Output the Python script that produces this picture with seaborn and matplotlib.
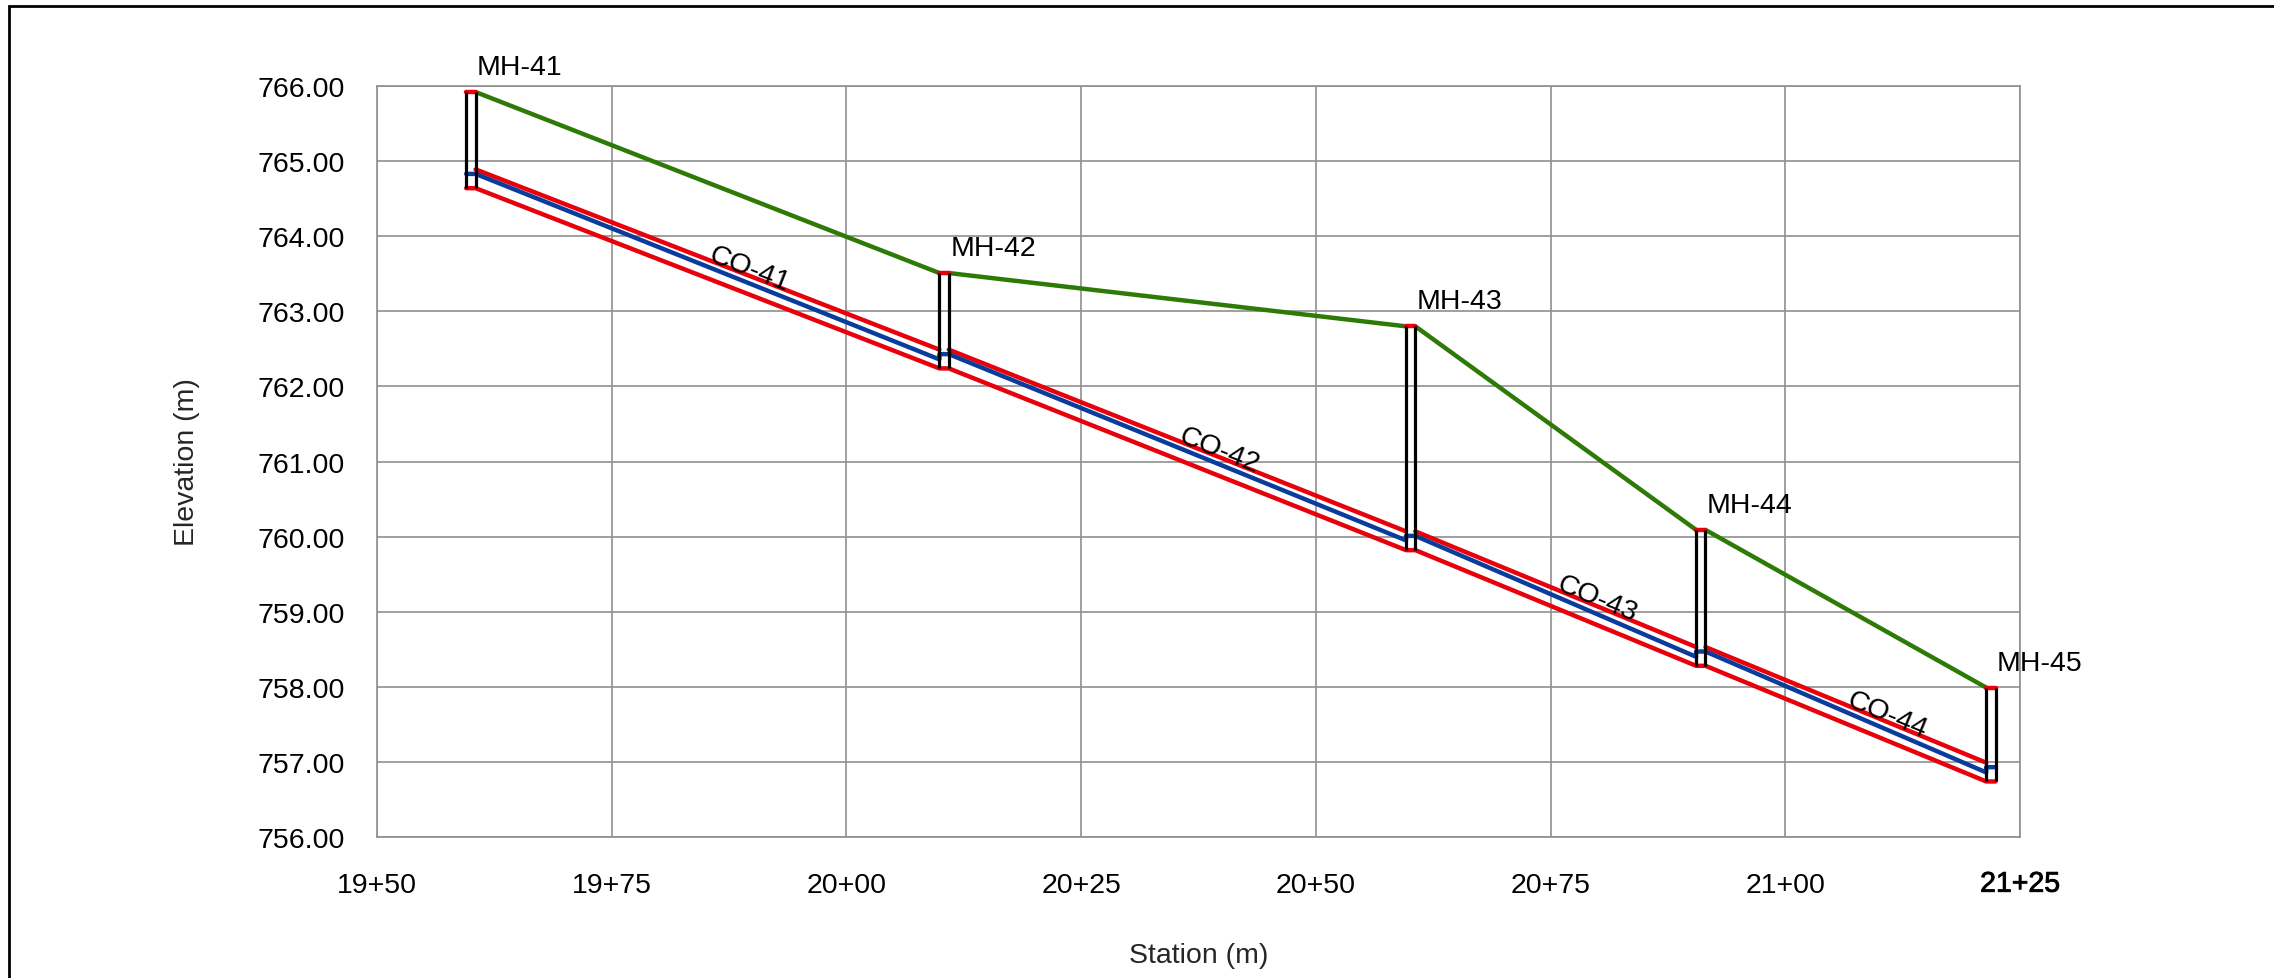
import numpy as np
import pandas as pd
import matplotlib
matplotlib.use("Agg")
import matplotlib.pyplot as plt
import matplotlib.patheffects as pe
from matplotlib.patches import Rectangle
import seaborn as sns

# DATA

mh_names = ["MH-41", "MH-42", "MH-43", "MH-44", "MH-45"]
mh_station = [1960.0, 2010.4, 2060.1, 2091.0, 2121.9]
mh_rim = [765.92, 763.51, 762.80, 760.09, 757.99]
mh_invert = [764.64, 762.24, 759.82, 758.28, 756.74]
mh_hgl = [764.83, 762.43, 760.01, 758.47, 756.93]

pipe_names = ["CO-41", "CO-42", "CO-43", "CO-44"]
pipe_hgl_end = [762.36, 759.95, 758.40, 756.86]

PIPE_RISE = 0.25
MH_WIDTH = 1.0

x_ticks = [1950, 1975, 2000, 2025, 2050, 2075, 2100, 2125]
y_ticks = [756, 757, 758, 759, 760, 761, 762, 763, 764, 765, 766]

# STYLE

RED = "#e8000b"
BLUE = "#0a3c9c"
GREEN = "#2e7a06"
GRID = "#8f8f8f"
FS = 20.5

sns.set_theme(style="whitegrid")
plt.rcParams["font.family"] = ["Liberation Sans", "DejaVu Sans"]
plt.rcParams["text.color"] = "black"


def station_label(v):
    return f"{int(v // 100)}+{int(v % 100):02d}"


# BUILD LONG-FORM TABLES

half = MH_WIDTH / 2
ground_rows, crown_rows, invert_rows, hgl_rows, cap_rows = [], [], [], [], []

for i in range(len(pipe_names)):
    x0 = mh_station[i] + half
    x1 = mh_station[i + 1] - half
    ground_rows += [(i, x0, mh_rim[i]), (i, x1, mh_rim[i + 1])]
    crown_rows += [(i, x0, mh_invert[i] + PIPE_RISE), (i, x1, mh_invert[i + 1] + PIPE_RISE)]

k = 0
for i, st in enumerate(mh_station):
    invert_rows += [(k, st - half, mh_invert[i]), (k + 1, st + half, mh_invert[i])]
    k += 2
    cap_rows += [(i, st - half, mh_rim[i]), (i, st + half, mh_rim[i])]

k = 0
for i, st in enumerate(mh_station):
    if i > 0:
        hgl_rows.append((k, st - half, pipe_hgl_end[i - 1]))
        k += 1
    hgl_rows += [(k, st - half, mh_hgl[i]), (k + 1, st + half, mh_hgl[i])]
    k += 2

cols = ["seg", "station", "elev"]
ground = pd.DataFrame(ground_rows, columns=cols)
crown = pd.DataFrame(crown_rows, columns=cols)
invert = pd.DataFrame(invert_rows, columns=["order", "station", "elev"])
hgl = pd.DataFrame(hgl_rows, columns=["order", "station", "elev"])
caps = pd.DataFrame(cap_rows, columns=cols)

# PLOT

fig = plt.figure(figsize=(22.74, 9.79), dpi=100)
ax = fig.add_axes([0.1658, 0.1440, 0.7225, 0.7671])

lw = 3.2
sns.lineplot(data=ground, x="station", y="elev", units="seg", estimator=None,
             sort=False, color=GREEN, lw=lw, ax=ax, zorder=3)
sns.lineplot(data=crown, x="station", y="elev", units="seg", estimator=None,
             sort=False, color=RED, lw=lw, ax=ax, zorder=3)
sns.lineplot(data=invert, x="station", y="elev", estimator=None,
             sort=False, color=RED, lw=lw, ax=ax, zorder=3)
sns.lineplot(data=hgl, x="station", y="elev", estimator=None,
             sort=False, color=BLUE, lw=lw, ax=ax, zorder=3)
sns.lineplot(data=caps, x="station", y="elev", units="seg", estimator=None,
             sort=False, color=RED, lw=lw, ax=ax, zorder=3)

# manhole walls
for i, st in enumerate(mh_station):
    ax.vlines([st - half, st + half], mh_invert[i], mh_rim[i],
              colors="black", lw=2.3, zorder=4)
    ax.annotate(mh_names[i], (st + half, mh_rim[i]), xytext=(1, 13),
                textcoords="offset points", ha="left", va="baseline",
                fontsize=FS, zorder=5)

# pipe labels along the crown
for i, name in enumerate(pipe_names):
    x0 = mh_station[i] + half
    x1 = mh_station[i + 1] - half
    y0 = mh_invert[i] + PIPE_RISE
    y1 = mh_invert[i + 1] + PIPE_RISE
    ang = np.degrees(np.arctan2(y1 - y0, x1 - x0))
    ax.text((x0 + x1) / 2, (y0 + y1) / 2, name, rotation=ang,
            rotation_mode="anchor", transform_rotates_text=True,
            ha="left", va="baseline", fontsize=FS, zorder=5)

ax.set_xlim(1950, 2125)
ax.set_ylim(756, 766)
ax.set_xticks(x_ticks)
ax.set_xticklabels([station_label(v) for v in x_ticks])
ax.set_yticks(y_ticks)
ax.set_yticklabels([f"{v:.2f}" for v in y_ticks])
ax.tick_params(axis="both", length=0, labelsize=FS, colors="black")
ax.tick_params(axis="x", pad=25)
ax.tick_params(axis="y", pad=23.5)
ax.xaxis.get_ticklabels()[-1].set_path_effects(
    [pe.withStroke(linewidth=0.6, foreground="black")])

ax.grid(True, color=GRID, lw=1.2)
ax.set_facecolor("white")
for sp in ax.spines.values():
    sp.set_color(GRID)
    sp.set_linewidth(1.2)

ax.set_xlabel("Station (m)", fontsize=FS)
ax.set_ylabel("Elevation (m)", fontsize=FS)
ax.xaxis.set_label_coords(0.5, -0.140)
ax.yaxis.set_label_coords(-0.108, 0.5)

# outer frame (only left and top edges fall inside the image)
fig.add_artist(Rectangle((9 / 2274, -0.1), 1.2, 1.1 - 7 / 979,
                         transform=fig.transFigure, fill=False,
                         edgecolor="black", lw=2.0))

fig.savefig("out.png", dpi=100, facecolor="white")
